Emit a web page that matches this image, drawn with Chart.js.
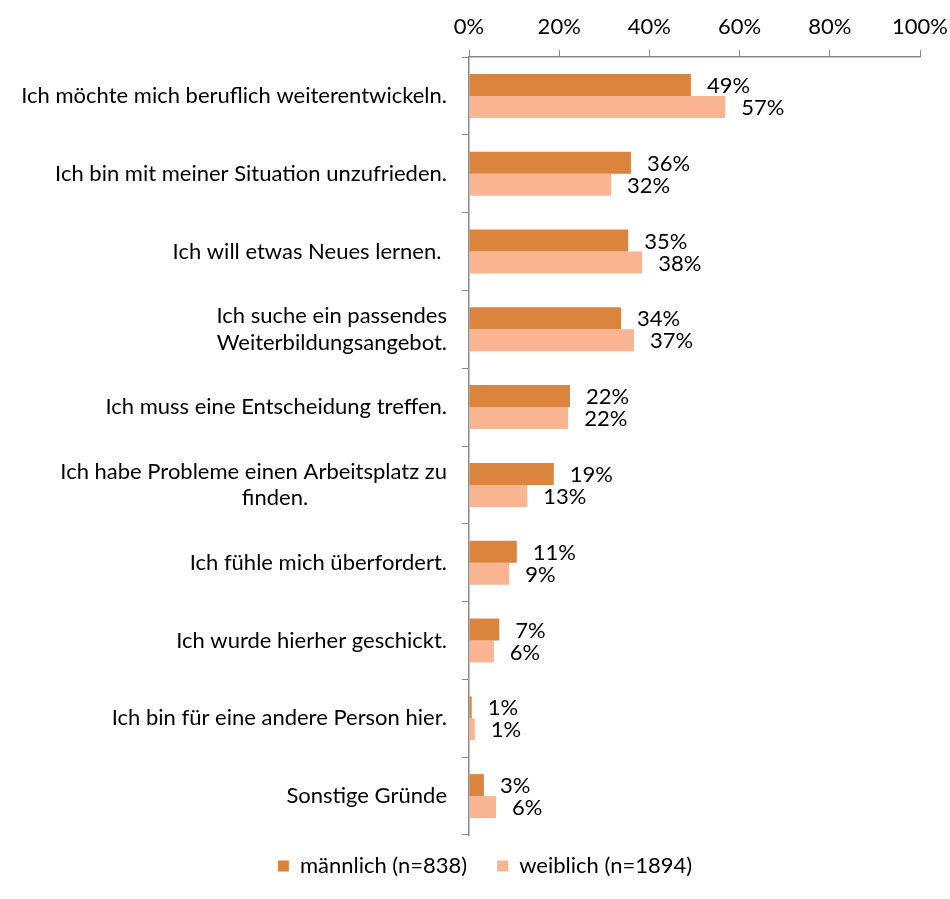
<!DOCTYPE html>
<html>
<head>
<meta charset="utf-8">
<script src="https://cdn.jsdelivr.net/npm/chart.js@4"></script>
<style>
  html, body { margin: 0; padding: 0; background: #fff; }
  #wrap { width: 950px; height: 899px; }
</style>
</head>
<body>
<div id="wrap"><canvas id="chart"></canvas></div>
<script>
const categories = [
    'Ich möchte mich beruflich weiterentwickeln.',
    'Ich bin mit meiner Situation unzufrieden.',
    'Ich will etwas Neues lernen. ',
    ['Ich suche ein passendes', 'Weiterbildungsangebot.'],
    'Ich muss eine Entscheidung treffen.',
    ['Ich habe Probleme einen Arbeitsplatz zu', 'finden.' + '\u2007'.repeat(10) + '  '],
    'Ich fühle mich überfordert.',
    'Ich wurde hierher geschickt.',
    'Ich bin für eine andere Person hier.',
    'Sonstige Gründe'
];
const maleValues = [49.2, 35.9, 35.3, 33.7, 22.4, 18.8, 10.6, 6.7, 0.6, 3.3];
const femaleValues = [56.8, 31.5, 38.4, 36.6, 22.0, 12.9, 8.9, 5.5, 1.3, 6.0];
const xTicks = [0, 20, 40, 60, 80, 100];

const FONT = 'Lato';
const FONT_SIZE = 22;
const axisColor = '#8a8a8a';

// draws the "49%" style labels next to each bar
const valueLabels = {
    id: 'valueLabels',
    afterDatasetsDraw(chart) {
        const ctx = chart.ctx;
        ctx.save();
        ctx.font = FONT_SIZE + 'px ' + FONT;
        ctx.fillStyle = '#000';
        ctx.textAlign = 'left';
        ctx.textBaseline = 'middle';
        chart.data.datasets.forEach((ds, i) => {
            chart.getDatasetMeta(i).data.forEach((bar, j) => {
                ctx.fillText(Math.round(ds.data[j]) + '%', bar.x + 16, bar.y + 1);
            });
        });
        ctx.restore();
    }
};

// pull the legend a bit closer to the plot
const legendNudge = {
    id: 'legendNudge',
    afterLayout(chart) {
        if (chart.legend) {
            chart.legend.top -= 10;
            chart.legend.bottom -= 10;
        }
    }
};

new Chart(document.getElementById('chart'), {
    type: 'bar',
    data: {
        labels: categories,
        datasets: [{
            label: 'männlich (n=838)',
            data: maleValues,
            backgroundColor: '#db843e',
            categoryPercentage: 0.565,
            barPercentage: 1
        }, {
            label: 'weiblich (n=1894)',
            data: femaleValues,
            backgroundColor: '#f9b591',
            categoryPercentage: 0.565,
            barPercentage: 1
        }]
    },
    options: {
        indexAxis: 'y',
        responsive: true,
        maintainAspectRatio: false,
        animation: false,
        layout: { padding: { left: 20, right: 0, top: 0, bottom: 2 } },
        font: { family: FONT, size: FONT_SIZE },
        scales: {
            x: {
                position: 'top',
                min: 0,
                max: 100,
                afterBuildTicks: (scale) => {
                    scale.ticks = xTicks.map(v => ({ value: v }));
                },
                afterFit: (scale) => {
                    scale.height = 57;
                    scale.paddingRight = 30;
                },
                ticks: {
                    color: '#000',
                    padding: 10,
                    font: { family: FONT, size: FONT_SIZE },
                    callback: (v) => v + '%'
                },
                grid: { drawOnChartArea: false, tickLength: 7, color: axisColor },
                border: { color: axisColor, width: 1.5 }
            },
            y: {
                afterFit: (scale) => { scale.width = 449; },
                ticks: {
                    color: '#000',
                    padding: 15,
                    font: { family: FONT, size: FONT_SIZE }
                },
                grid: { drawOnChartArea: false, tickLength: 7, color: axisColor, offset: true },
                border: { color: axisColor, width: 1.5 }
            }
        },
        plugins: {
            legend: {
                position: 'bottom',
                labels: {
                    boxWidth: 11,
                    boxHeight: 11,
                    padding: 30,
                    color: '#000',
                    font: { family: FONT, size: FONT_SIZE }
                }
            },
            tooltip: { enabled: false }
        }
    },
    plugins: [valueLabels, legendNudge]
});
</script>
</body>
</html>
